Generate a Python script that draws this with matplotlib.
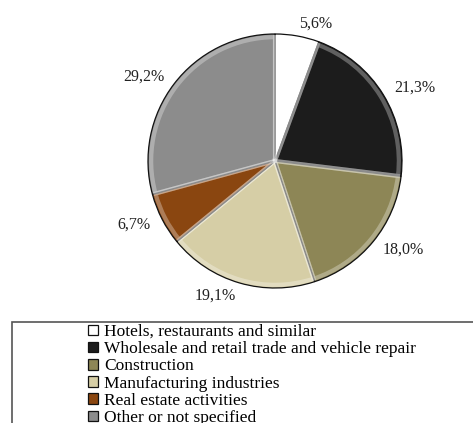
import matplotlib
matplotlib.use('Agg')
from matplotlib import pyplot as plt
from matplotlib.patches import Rectangle

# activity shares (%)
label = ['Hotels, restaurants and similar',
         'Wholesale and retail trade and vehicle repair',
         'Construction',
         'Manufacturing industries',
         'Real estate activities',
         'Other or not specified']
share = [5.6, 21.3, 18.0, 19.1, 6.7, 29.2]
pct_text = ['5,6%', '21,3%', '18,0%', '19,1%', '6,7%', '29,2%']
c = ['#ffffff', '#1c1c1c', '#8d8656', '#d6cea6', '#8a4610', '#8c8c8c']

plt.rcParams['font.family'] = ['Liberation Serif', 'DejaVu Serif']

W, H = 473, 423
fig = plt.figure(figsize=(W / 100, H / 100), dpi=100)

# pie centre (275,161) px, radius 127 px
cx, cy, r = 275, 161, 127
ax = fig.add_axes([(cx - r) / W, (H - cy - r) / H, 2 * r / W, 2 * r / H])
# soft bevel band under the outline
ax.pie(share, colors=['none'] * 6, startangle=90, counterclock=False, radius=0.975,
       wedgeprops=dict(edgecolor=(1, 1, 1, 0.3), linewidth=3))
wedges, texts = ax.pie(share, labels=pct_text, colors=c, startangle=90,
                       counterclock=False, labeldistance=1.1,
                       wedgeprops=dict(edgecolor='#111111', linewidth=0.9),
                       textprops=dict(fontsize=11.5, color='#222222'))
for w in wedges:
    w.set_zorder(0)
ax.set_xlim(-1, 1)
ax.set_ylim(-1, 1)
ax.set_aspect('equal')
ax.axis('off')

# legend box running off the right and bottom edges
fig.patches.append(Rectangle((12 / W, -0.1), 1.2, (H - 322) / H + 0.1,
                             transform=fig.transFigure, fill=False,
                             edgecolor='#555555', linewidth=1.2))
fig.legend(wedges, label, loc='upper left', bbox_to_anchor=(88 / W, 1 - 324 / H),
           frameon=False, fontsize=12.5, handlelength=0.55, handleheight=0.55,
           handletextpad=0.4, labelspacing=0.07, borderpad=0, borderaxespad=0)

plt.savefig('out.png', dpi=100)
